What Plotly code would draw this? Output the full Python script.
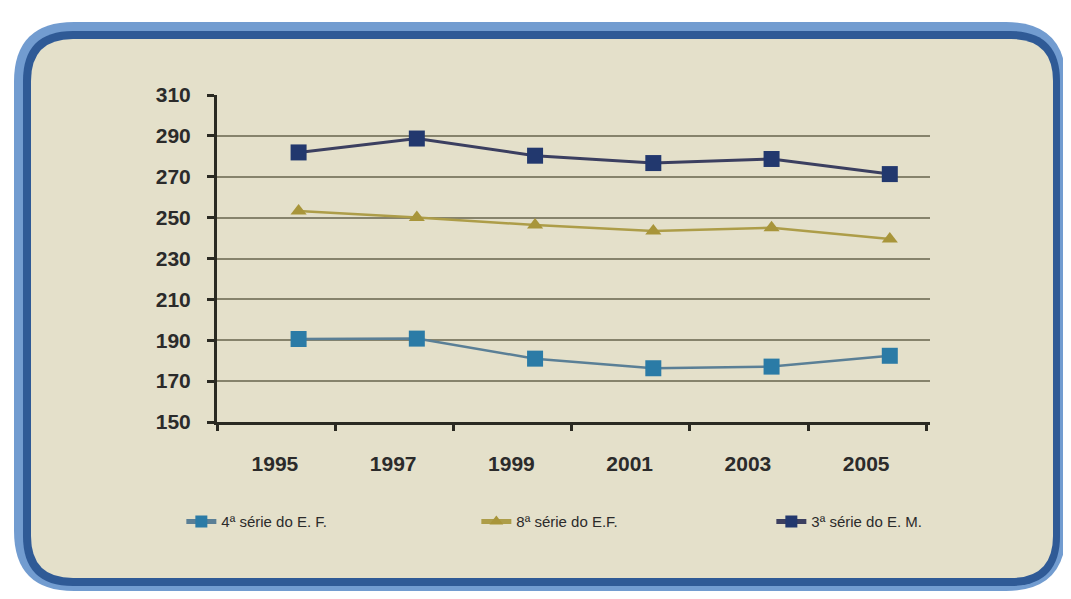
import plotly.graph_objects as go

# SAEB - proficiency in mathematics
years = ['1995', '1997', '1999', '2001', '2003', '2005']
serie4_ef = [190.6, 190.8, 181.0, 176.3, 177.1, 182.4]
serie8_ef = [253.2, 250.0, 246.4, 243.4, 245.0, 239.5]
serie3_em = [281.9, 288.7, 280.3, 276.7, 278.7, 271.3]
y_ticks = [150, 170, 190, 210, 230, 250, 270, 290, 310]

# page body adds an 8px margin, so the figure is drawn 8px smaller
OFF = 8
W, H = 1071 - OFF, 599 - OFF
L, R, T, B = 217 - OFF, 141, 95 - OFF, 177
PW, PH = W - L - R, H - T - B


def px2paper(x, y):
    # x, y given in window pixels
    x, y = x - OFF, y - OFF
    return (x - L) / PW, (H - B - y) / PH


def rounded_rect(x0, y0, x1, y1, r):
    def p(x, y):
        u, v = px2paper(x, y)
        return f'{u:.5f},{v:.5f}'
    pts = [
        f'M {p(x0 + r, y0)}',
        f'L {p(x1 - r, y0)}',
        f'Q {p(x1, y0)} {p(x1, y0 + r)}',
        f'L {p(x1, y1 - r)}',
        f'Q {p(x1, y1)} {p(x1 - r, y1)}',
        f'L {p(x0 + r, y1)}',
        f'Q {p(x0, y1)} {p(x0, y1 - r)}',
        f'L {p(x0, y0 + r)}',
        f'Q {p(x0, y0)} {p(x0 + r, y0)}',
        'Z',
    ]
    return ' '.join(pts)


xs = list(range(len(years)))

fig = go.Figure()
fig.add_trace(go.Scatter(
    x=xs, y=serie4_ef, name='4ª série do E. F.', mode='lines+markers',
    line=dict(color='#5a7f96', width=2.5),
    marker=dict(symbol='square', size=16, color='#2b7ba6'),
))
fig.add_trace(go.Scatter(
    x=xs, y=serie8_ef, name='8ª série do E.F.', mode='lines+markers',
    line=dict(color='#ad9d48', width=2.5),
    marker=dict(symbol='triangle-up', size=14, color='#a8953a'),
))
fig.add_trace(go.Scatter(
    x=xs, y=serie3_em, name='3ª série do E. M.', mode='lines+markers',
    line=dict(color='#3b3f60', width=3),
    marker=dict(symbol='square', size=16, color='#22386e'),
))

shapes = [
    dict(type='path', xref='paper', yref='paper', layer='below',
         path=rounded_rect(14, 22, 1066, 591, 60),
         fillcolor='#729cd0', line=dict(width=0)),
    dict(type='path', xref='paper', yref='paper', layer='below',
         path=rounded_rect(23, 31, 1060, 586, 50),
         fillcolor='#2f5a96', line=dict(width=0)),
    dict(type='path', xref='paper', yref='paper', layer='below',
         path=rounded_rect(31, 39, 1053, 578, 42),
         fillcolor='#e4e0ca', line=dict(width=0)),
]

font = 'Liberation Sans, Arial, sans-serif'

fig.update_layout(
    width=W, height=H,
    margin=dict(l=L, r=R, t=T, b=B),
    paper_bgcolor='white',
    plot_bgcolor='rgba(0,0,0,0)',
    shapes=shapes,
    showlegend=True,
    legend=dict(
        orientation='h', x=-0.05, y=-0.305, xanchor='left', yanchor='middle',
        font=dict(family=font, size=15, color='#2b2b2b'),
        entrywidth=250, bgcolor='rgba(0,0,0,0)', traceorder='normal',
        itemsizing='constant',
    ),
    xaxis=dict(
        range=[-0.69, 5.34],
        tickmode='array',
        tickvals=[i - 0.2 for i in xs],
        ticktext=years,
        ticks='',
        showgrid=False, zeroline=False,
        showline=True, linecolor='#2a2a22', linewidth=3,
        tickfont=dict(family=font, size=21, color='#2b2b2b', weight='bold'),
        ticklabelstandoff=21,
        minor=dict(tick0=-0.69, dtick=1, ticks='outside', ticklen=6,
                   tickwidth=3, tickcolor='#2a2a22', showgrid=False),
    ),
    yaxis=dict(
        range=[150, 310],
        tickmode='array', tickvals=y_ticks,
        ticks='outside', ticklen=7, tickwidth=3, tickcolor='#2a2a22',
        showgrid=True, gridcolor='#86836c', gridwidth=2,
        zeroline=False,
        showline=True, linecolor='#2a2a22', linewidth=3,
        tickfont=dict(family=font, size=21, color='#2b2b2b', weight='bold'),
        ticklabelstandoff=12,
    ),
)

fig.write_html('out.html')
